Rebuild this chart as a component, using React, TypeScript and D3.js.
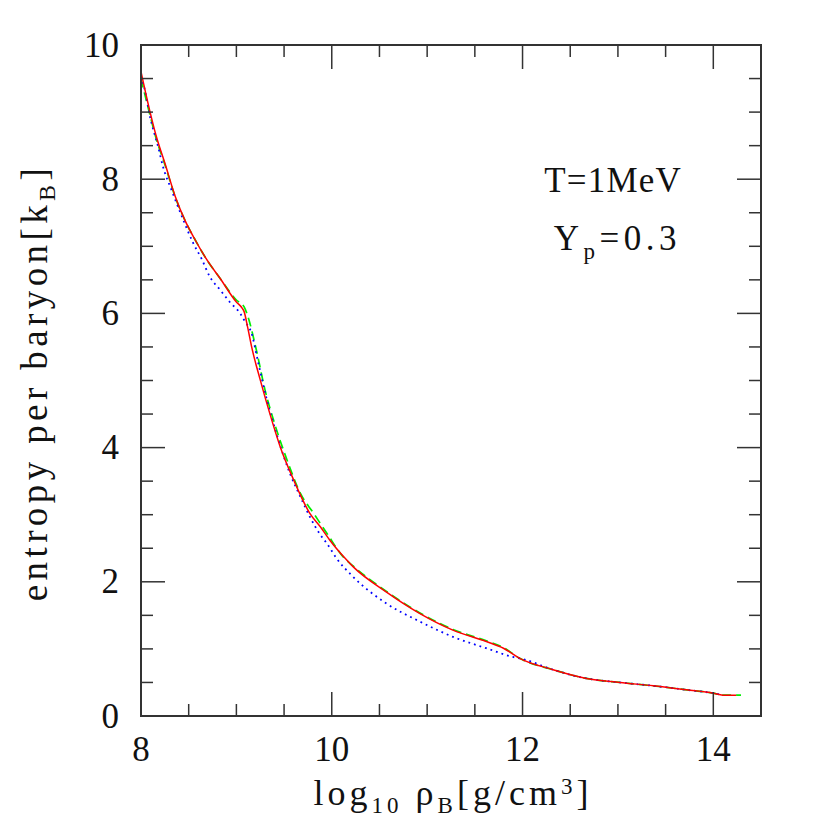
import React from "react";
import * as d3 from "d3";

// ---- data ----
const redX = [8.0, 8.09, 8.16, 8.25, 8.36, 8.46, 8.57, 8.69, 8.83, 9.0, 9.06, 9.08, 9.12, 9.16, 9.25, 9.35, 9.46, 9.6, 9.77, 9.88, 9.98, 10.14, 10.22, 10.57, 10.92, 11.27, 11.62, 11.8, 11.97, 12.32, 12.67, 13.02, 13.37, 13.72, 14.0, 14.1, 14.24];
const redY = [9.6, 9.03, 8.64, 8.24, 7.74, 7.39, 7.09, 6.8, 6.52, 6.17, 6.08, 6.03, 5.78, 5.5, 5.01, 4.51, 4.01, 3.52, 3.02, 2.82, 2.62, 2.35, 2.23, 1.85, 1.53, 1.28, 1.11, 1.01, 0.86, 0.69, 0.56, 0.5, 0.45, 0.39, 0.34, 0.31, 0.31];

const greenX = [8.0, 8.09, 8.16, 8.25, 8.36, 8.46, 8.57, 8.69, 8.83, 9.0, 9.08, 9.11, 9.21, 9.3, 9.4, 9.53, 9.67, 9.81, 9.95, 10.12, 10.22, 10.57, 10.92, 11.27, 11.62, 11.8, 11.97, 12.32, 12.67, 13.02, 13.37, 13.72, 14.0, 14.1, 14.29];
const greenY = [9.5, 8.98, 8.6, 8.22, 7.73, 7.39, 7.09, 6.8, 6.52, 6.2, 6.1, 6.0, 5.45, 4.86, 4.36, 3.82, 3.32, 3.02, 2.72, 2.37, 2.24, 1.86, 1.54, 1.29, 1.12, 1.02, 0.86, 0.69, 0.56, 0.5, 0.45, 0.39, 0.34, 0.31, 0.31];

const blueX = [8.0, 8.04, 8.09, 8.18, 8.23, 8.32, 8.43, 8.55, 8.64, 8.72, 8.83, 8.93, 9.04, 9.09, 9.16, 9.23, 9.32, 9.42, 9.56, 9.67, 9.77, 9.88, 9.95, 10.05, 10.22, 10.57, 10.92, 11.27, 11.62, 11.9, 12.0, 12.32, 12.67, 13.02, 13.37, 13.72, 14.0, 14.1];
const blueY = [9.53, 9.33, 8.96, 8.48, 8.19, 7.84, 7.44, 7.04, 6.8, 6.55, 6.35, 6.17, 6.0, 5.88, 5.7, 5.26, 4.71, 4.21, 3.62, 3.27, 2.97, 2.7, 2.57, 2.35, 2.08, 1.68, 1.41, 1.18, 1.01, 0.88, 0.85, 0.69, 0.56, 0.5, 0.45, 0.39, 0.34, 0.31];

const xDomain = [8, 14.5];
const yDomain = [0, 10];
const xMajorTicks = [8, 10, 12, 14];
const yMajorTicks = [0, 2, 4, 6, 8, 10];
const xMinorTicks = [8.5, 9, 9.5, 10.5, 11, 11.5, 12.5, 13, 13.5, 14.5];
const yMinorTicks = [0.5, 1, 1.5, 2.5, 3, 3.5, 4.5, 5, 5.5, 6.5, 7, 7.5, 8.5, 9, 9.5];

const FONT = "'Liberation Serif', 'DejaVu Serif', serif";

export default function App() {
  const L = 141, R = 761, T = 45, B = 716;
  const x = d3.scaleLinear().domain(xDomain).range([L, R]);
  const y = d3.scaleLinear().domain(yDomain).range([B, T]);
  const mk = (xs: number[], ys: number[]) =>
    d3.line<number>().x((_, i) => x(xs[i])).y((_, i) => y(ys[i])).curve(d3.curveMonotoneX)(xs.map((_, i) => i)) || "";

  const major = 24, minor = 12;
  const tickColor = "#333";
  return (
    <svg width={830} height={830} style={{ position: "absolute", left: 0, top: 0, background: "#fff" }}>
      <rect x={0} y={0} width={830} height={830} fill="#fff" />
      <defs>
        <clipPath id="clip"><rect x={L} y={T} width={R - L} height={B - T} /></clipPath>
      </defs>
      <g clipPath="url(#clip)">
        <path d={mk(greenX, greenY)} fill="none" stroke="#00ee00" strokeWidth={1.7} strokeDasharray="9,5" />
        <path d={mk(blueX, blueY)} fill="none" stroke="#0000ff" strokeWidth={1.8} strokeDasharray="1.8,4" />
        <path d={mk(redX, redY)} fill="none" stroke="#ff0000" strokeWidth={1.5} />
      </g>
      {/* ticks */}
      <g stroke={tickColor} strokeWidth={1.5}>
        {xMajorTicks.map((t) => (
          <g key={"xM" + t}>
            <line x1={x(t)} x2={x(t)} y1={B} y2={B - major} />
            <line x1={x(t)} x2={x(t)} y1={T} y2={T + major} />
          </g>
        ))}
        {xMinorTicks.map((t) => (
          <g key={"xm" + t}>
            <line x1={x(t)} x2={x(t)} y1={B} y2={B - minor} />
            <line x1={x(t)} x2={x(t)} y1={T} y2={T + minor} />
          </g>
        ))}
        {yMajorTicks.map((t) => (
          <g key={"yM" + t}>
            <line x1={L} x2={L + major} y1={y(t)} y2={y(t)} />
            <line x1={R} x2={R - major} y1={y(t)} y2={y(t)} />
          </g>
        ))}
        {yMinorTicks.map((t) => (
          <g key={"ym" + t}>
            <line x1={L} x2={L + minor} y1={y(t)} y2={y(t)} />
            <line x1={R} x2={R - minor} y1={y(t)} y2={y(t)} />
          </g>
        ))}
      </g>
      <rect x={L} y={T} width={R - L} height={B - T} fill="none" stroke="#333" strokeWidth={2} />
      {/* tick labels */}
      <g fontFamily={FONT} fontSize={35} fill="#111">
        {xMajorTicks.map((t) => (
          <text key={"xl" + t} x={x(t)} y={761} textAnchor="middle">{t}</text>
        ))}
        {yMajorTicks.map((t) => (
          <text key={"yl" + t} x={119} y={y(t) + 11.5} textAnchor="end">{t}</text>
        ))}
      </g>
      {/* axis titles */}
      <text x={(L + R) / 2 + 2} y={805} textAnchor="middle" fontFamily={FONT} fontSize={36} fill="#111" style={{ letterSpacing: "4px" }}>
        log<tspan fontSize={23} dy={8}>10</tspan>
        <tspan dy={-8}> ρ</tspan>
        <tspan fontSize={23} dy={8}>B</tspan>
        <tspan dy={-8}>[g/cm</tspan>
        <tspan fontSize={23} dy={-11}>3</tspan>
        <tspan dy={11}>]</tspan>
      </text>
      <text transform={`translate(47, ${(T + B) / 2 + 2}) rotate(-90)`} textAnchor="middle" fontFamily={FONT} fontSize={37} fill="#111" style={{ letterSpacing: "4.4px" }}>
        entropy per baryon[k<tspan fontSize={24} dy={8}>B</tspan><tspan dy={-8}>]</tspan>
      </text>
      {/* annotations */}
      <text x={682} y={192} textAnchor="end" fontFamily={FONT} fontSize={35} fill="#111" style={{ letterSpacing: "1.2px" }}>T=1MeV</text>
      <text x={681} y={250} textAnchor="end" fontFamily={FONT} fontSize={35} fill="#111" style={{ letterSpacing: "4.5px" }}>
        Y<tspan fontSize={23} dy={9}>p</tspan><tspan dy={-9}>=0.3</tspan>
      </text>
    </svg>
  );
}
